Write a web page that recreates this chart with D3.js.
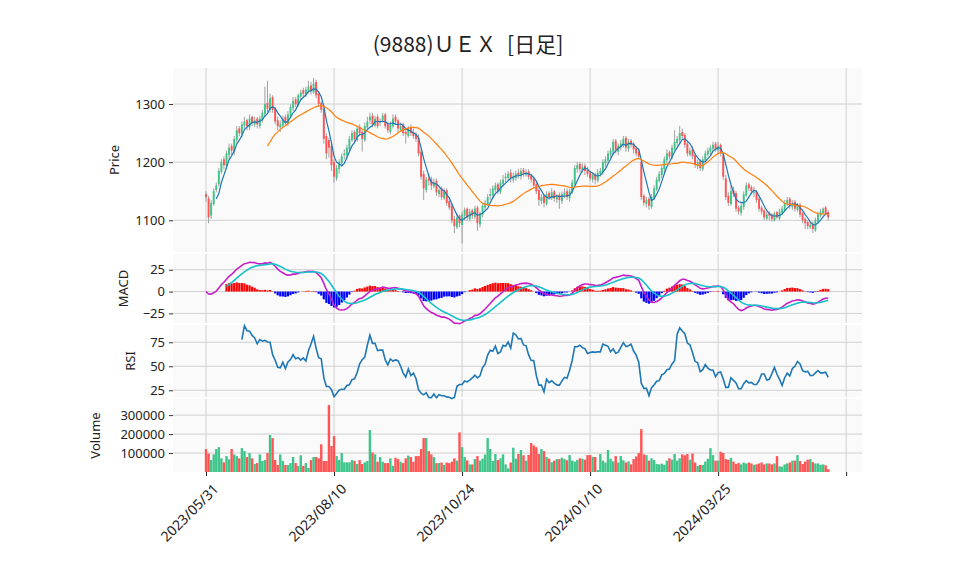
<!DOCTYPE html>
<html>
<head>
<meta charset="utf-8">
<script src="https://cdn.jsdelivr.net/npm/d3@7"></script>
<style>
  body { margin: 0; background: #fff; }
</style>
</head>
<body>
<div id="chart"></div>
<script>
// --- data ---
var title = '(9888)ＵＥＸ\u2002[日足]';
var tickIndex = [0, 50, 100, 150, 200, 250];
var tickLabels = ['2023/05/31', '2023/08/10', '2023/10/24', '2024/01/10', '2024/03/25', ''];

var opens = [1145,1138,1108,1128,1152,1162,1183,1205,1193,1212,
  1228,1218,1238,1258,1248,1263,1272,1260,1278,1265,
  1275,1262,1273,1283,1302,1290,1312,1292,1272,1260,
  1263,1278,1266,1280,1293,1308,1298,1313,1324,1316,
  1322,1332,1320,1338,1318,1302,1292,1245,1238,1228,
  1200,1172,1188,1198,1212,1212,1222,1238,1252,1238,
  1260,1252,1238,1260,1272,1280,1263,1278,1268,1272,
  1282,1265,1252,1262,1278,1272,1255,1265,1252,1245,
  1260,1252,1248,1242,1218,1180,1152,1172,1170,1158,
  1168,1145,1155,1138,1152,1133,1125,1102,1088,1108,
  1092,1108,1120,1102,1117,1106,1122,1093,1110,1122,
  1128,1142,1143,1152,1162,1148,1163,1172,1173,1182,
  1170,1173,1182,1176,1187,1178,1184,1177,1172,1162,
  1152,1133,1142,1128,1147,1138,1150,1136,1144,1133,
  1143,1150,1138,1148,1163,1188,1197,1186,1194,1187,
  1182,1170,1180,1168,1180,1183,1198,1203,1213,1218,
  1237,1218,1226,1230,1242,1223,1237,1232,1224,1217,
  1200,1142,1128,1137,1123,1138,1153,1168,1178,1188,
  1203,1217,1208,1223,1233,1238,1252,1247,1232,1213,
  1222,1212,1193,1202,1188,1203,1213,1218,1223,1232,
  1220,1230,1212,1172,1142,1128,1152,1147,1122,1113,
  1123,1143,1162,1157,1148,1150,1137,1122,1117,1103,
  1112,1110,1100,1114,1103,1113,1118,1128,1137,1123,
  1132,1118,1127,1112,1102,1097,1088,1094,1083,1098,
  1108,1113,1122,1114];
var highs = [1150,1142,1135,1155,1165,1190,1205,1210,1220,1232,
  1232,1245,1262,1262,1270,1278,1275,1282,1280,1278,
  1278,1280,1290,1330,1340,1318,1315,1295,1278,1272,
  1280,1282,1288,1300,1312,1312,1318,1325,1328,1330,
  1340,1338,1345,1342,1322,1305,1295,1250,1242,1232,
  1205,1195,1205,1215,1222,1230,1245,1255,1255,1262,
  1265,1255,1268,1278,1285,1285,1280,1282,1275,1285,
  1285,1270,1270,1282,1282,1275,1268,1268,1258,1262,
  1265,1258,1252,1248,1222,1185,1175,1180,1175,1172,
  1172,1158,1158,1155,1155,1140,1128,1108,1112,1110,
  1115,1122,1122,1120,1120,1125,1125,1115,1130,1135,
  1145,1155,1160,1165,1165,1170,1178,1182,1185,1188,
  1182,1185,1188,1190,1190,1188,1188,1180,1175,1165,
  1155,1145,1145,1150,1150,1155,1152,1145,1148,1150,
  1155,1155,1155,1170,1195,1200,1200,1198,1198,1192,
  1185,1182,1182,1188,1190,1205,1210,1220,1225,1240,
  1240,1232,1238,1245,1245,1240,1240,1235,1228,1222,
  1202,1145,1140,1140,1145,1160,1175,1185,1195,1210,
  1222,1220,1230,1255,1245,1262,1258,1250,1235,1225,
  1228,1215,1205,1205,1210,1220,1225,1230,1235,1235,
  1235,1232,1215,1178,1148,1160,1158,1150,1125,1130,
  1150,1165,1165,1160,1158,1152,1140,1125,1120,1115,
  1115,1112,1115,1116,1120,1125,1135,1140,1140,1135,
  1135,1130,1130,1115,1105,1100,1098,1098,1105,1115,
  1120,1122,1125,1118];
var lows = [1132,1095,1102,1125,1148,1158,1180,1188,1188,1205,
  1212,1212,1232,1245,1242,1258,1255,1255,1262,1260,
  1258,1258,1268,1278,1285,1285,1285,1265,1255,1252,
  1258,1262,1262,1276,1288,1295,1295,1308,1312,1312,
  1318,1316,1318,1310,1295,1285,1232,1205,1208,1185,
  1165,1168,1180,1192,1205,1205,1218,1235,1235,1235,
  1245,1218,1235,1255,1265,1260,1260,1258,1262,1268,
  1258,1250,1248,1258,1265,1250,1252,1245,1232,1242,
  1245,1240,1235,1210,1170,1135,1148,1160,1152,1155,
  1142,1140,1135,1135,1125,1118,1095,1078,1085,1088,
  1060,1100,1100,1098,1102,1102,1082,1088,1105,1118,
  1125,1135,1138,1148,1145,1145,1158,1165,1168,1165,
  1165,1168,1172,1170,1175,1175,1170,1165,1155,1145,
  1125,1128,1122,1125,1135,1135,1132,1130,1120,1128,
  1138,1135,1132,1145,1160,1182,1182,1182,1178,1175,
  1168,1165,1162,1165,1175,1178,1192,1198,1208,1212,
  1215,1212,1220,1225,1218,1218,1225,1215,1210,1205,
  1135,1125,1122,1118,1120,1135,1150,1165,1172,1182,
  1198,1205,1205,1220,1228,1232,1240,1225,1210,1210,
  1205,1190,1188,1185,1185,1200,1210,1212,1218,1218,
  1215,1210,1170,1135,1125,1125,1140,1115,1110,1108,
  1118,1140,1150,1145,1140,1130,1115,1110,1100,1100,
  1100,1098,1098,1102,1100,1110,1115,1125,1120,1118,
  1115,1115,1105,1095,1085,1085,1085,1078,1080,1095,
  1105,1110,1108,1100];
var closes = [1140,1105,1130,1150,1160,1185,1200,1195,1215,1225,
  1220,1240,1255,1250,1265,1270,1262,1275,1268,1272,
  1265,1275,1285,1300,1292,1310,1290,1270,1262,1265,
  1275,1268,1282,1295,1305,1300,1315,1320,1318,1325,
  1330,1322,1335,1315,1300,1290,1240,1215,1225,1195,
  1175,1190,1200,1210,1215,1225,1240,1250,1240,1258,
  1250,1240,1262,1270,1278,1265,1275,1262,1270,1280,
  1262,1255,1265,1275,1270,1258,1262,1250,1248,1258,
  1250,1245,1240,1215,1175,1155,1170,1168,1160,1165,
  1148,1152,1140,1150,1130,1122,1100,1090,1105,1095,
  1110,1118,1105,1115,1108,1120,1095,1112,1125,1130,
  1140,1145,1155,1160,1150,1165,1170,1175,1180,1172,
  1175,1180,1178,1185,1180,1182,1175,1170,1160,1150,
  1135,1140,1130,1145,1140,1148,1138,1142,1135,1145,
  1148,1140,1150,1165,1190,1195,1188,1192,1185,1180,
  1172,1178,1170,1182,1185,1200,1205,1215,1220,1235,
  1220,1228,1232,1240,1225,1235,1230,1222,1215,1210,
  1140,1130,1135,1125,1140,1155,1170,1180,1190,1205,
  1215,1210,1225,1235,1240,1250,1245,1230,1215,1220,
  1210,1195,1200,1190,1205,1215,1220,1225,1230,1222,
  1228,1215,1175,1140,1130,1150,1145,1120,1115,1125,
  1145,1160,1155,1150,1148,1135,1120,1115,1105,1110,
  1108,1102,1112,1105,1115,1120,1130,1135,1125,1130,
  1120,1125,1110,1100,1095,1090,1092,1085,1100,1110,
  1115,1120,1112,1105];
// volume in thousands of shares
var volumesK = [121,98,63,93,121,131,72,51,84,67,
  121,93,84,72,126,110,79,100,72,42,
  47,93,58,63,100,195,179,63,37,93,
  58,37,37,47,79,47,32,88,32,47,
  21,63,79,79,72,146,58,58,353,137,
  189,84,63,100,51,51,51,63,58,42,
  63,42,51,58,221,103,93,54,79,54,
  47,47,72,33,75,68,54,47,72,86,
  79,54,84,84,121,179,179,110,93,79,
  47,47,50,37,50,47,54,72,60,209,
  131,79,61,40,40,68,84,60,70,92,
  179,121,58,95,63,72,93,40,19,50,
  128,70,95,116,88,60,90,153,140,131,
  95,121,110,79,70,52,60,68,68,75,
  68,62,89,60,55,63,72,70,65,89,
  89,80,79,10,95,60,50,116,70,56,
  84,50,84,62,50,56,40,68,82,100,
  226,93,89,60,72,63,42,40,44,38,
  60,72,65,95,60,72,93,88,95,65,
  98,50,32,37,37,55,70,126,89,60,
  60,107,100,68,64,75,55,42,48,40,
  50,45,50,45,38,40,45,50,40,45,
  45,40,45,84,30,28,40,45,50,60,
  60,89,58,42,55,65,68,52,45,45,
  38,40,35,15];

// --- indicators ---
function sma(arr, n) {
    return arr.map(function (v, i) {
        return i < n - 1 ? null : d3.mean(arr.slice(i - n + 1, i + 1));
    });
}
function ema(arr, n) {
    var k = 2 / (n + 1), out = [], prev;
    arr.forEach(function (v, i) { prev = i === 0 ? v : v * k + prev * (1 - k); out.push(prev); });
    return out;
}
var ma5 = sma(closes, 5);
var ma25 = sma(closes, 25);
var e12 = ema(closes, 12), e26 = ema(closes, 26);
var macd = e12.map(function (v, i) { return v - e26[i]; });
var signal = ema(macd, 9);
var hist = macd.map(function (v, i) { return v - signal[i]; });
var rsi = closes.map(function (c, i) {
    if (i < 14) return null;
    var g = 0, l = 0;
    for (var j = i - 13; j <= i; j++) {
        var d = closes[j] - closes[j - 1];
        if (d > 0) g += d; else l -= d;
    }
    return l === 0 ? 100 : 100 - 100 / (1 + g / l);
});

// --- layout ---
var W = 958, H = 575;
var left = 173, right = 862;
var FONT = 'Noto Sans, DejaVu Sans, sans-serif';
var panels = {
    price: { top: 68, bottom: 252 },
    macd: { top: 254, bottom: 323 },
    rsi: { top: 325, bottom: 397 },
    vol: { top: 399, bottom: 472 }
};
var UP = '#3fc48a', DOWN = '#ff5454';

var svg = d3.select('#chart').append('svg').attr('width', W).attr('height', H);

svg.append('text').attr('x', 468).attr('y', 52).attr('text-anchor', 'middle')
    .attr('font-size', 21).attr('fill', '#222')
    .attr('font-family', 'Noto Sans CJK JP, sans-serif').text(title);

var x = d3.scaleLinear().domain([-12.9, 256.2]).range([left, right]);

function panel(p, domain, ticks, label, labelX, fmt) {
    var y = d3.scaleLinear().domain(domain).range([p.bottom, p.top]);
    var g = svg.append('g');
    g.append('rect').attr('x', left).attr('y', p.top).attr('width', right - left)
        .attr('height', p.bottom - p.top).attr('fill', '#fafafa');
    ticks.forEach(function (t) {
        g.append('line').attr('x1', left).attr('x2', right).attr('y1', y(t)).attr('y2', y(t))
            .attr('stroke', '#d0d0d0').attr('stroke-width', 1);
    });
    tickIndex.forEach(function (t) {
        g.append('line').attr('x1', x(t)).attr('x2', x(t)).attr('y1', p.top).attr('y2', p.bottom)
            .attr('stroke', '#d0d0d0').attr('stroke-width', 1);
    });
    var ax = g.append('g').attr('transform', 'translate(' + left + ',0)')
        .call(d3.axisLeft(y).tickValues(ticks).tickSize(4).tickPadding(4).tickFormat(fmt || d3.format('d')));
    ax.select('.domain').remove();
    ax.selectAll('line').attr('stroke', '#333');
    ax.selectAll('text').attr('font-size', 13).attr('fill', '#222').attr('font-family', FONT);
    svg.append('text').attr('transform', 'translate(' + labelX + ',' + ((p.top + p.bottom) / 2) + ') rotate(-90)')
        .attr('text-anchor', 'middle').attr('font-size', 13).attr('fill', '#222')
        .attr('font-family', FONT).text(label);
    return y;
}

var yP = panel(panels.price, [1045.5, 1362], [1100, 1200, 1300], 'Price', 119);
var yM = panel(panels.macd, [-36, 43], [-25, 0, 25], 'MACD', 128, function (d) { return d < 0 ? '\u2212' + (-d) : d; });
var yR = panel(panels.rsi, [18, 93], [25, 50, 75], 'RSI', 135);
var yV = panel(panels.vol, [0, 385], [100, 200, 300], 'Volume', 100, function (d) { return d * 1000; });

var bw = 2.56 * 0.75;
var idx = d3.range(closes.length);
function colorOf(i) { return closes[i] >= opens[i] ? UP : DOWN; }

// candles
var cg = svg.append('g');
cg.selectAll('line').data(idx).join('line')
    .attr('x1', function (i) { return x(i); }).attr('x2', function (i) { return x(i); })
    .attr('y1', function (i) { return yP(highs[i]); }).attr('y2', function (i) { return yP(lows[i]); })
    .attr('stroke', '#8a8a8a').attr('stroke-width', 0.8);
cg.selectAll('rect').data(idx).join('rect')
    .attr('x', function (i) { return x(i) - bw / 2; }).attr('width', bw)
    .attr('y', function (i) { return yP(Math.max(opens[i], closes[i])); })
    .attr('height', function (i) { return Math.max(0.8, Math.abs(yP(opens[i]) - yP(closes[i]))); })
    .attr('fill', colorOf);

function drawLine(data, y, color, w) {
    svg.append('path').datum(idx.filter(function (i) { return data[i] != null; }))
        .attr('fill', 'none').attr('stroke', color).attr('stroke-width', w || 1.3)
        .attr('d', d3.line().x(function (i) { return x(i); }).y(function (i) { return y(data[i]); }));
}
drawLine(ma5, yP, '#1f77b4', 1.2);
drawLine(ma25, yP, '#ff7f0e', 1.2);

// MACD
var histIdx = idx.filter(function (i) { return i >= 8; });
svg.append('g').selectAll('rect').data(histIdx).join('rect')
    .attr('x', function (i) { return x(i) - 1.1; }).attr('width', 2.2)
    .attr('y', function (i) { return Math.min(yM(0), yM(hist[i])); })
    .attr('height', function (i) { return Math.abs(yM(hist[i]) - yM(0)); })
    .attr('fill', function (i) { return hist[i] >= 0 ? '#ff0000' : '#0000ff'; });
drawLine(macd, yM, '#c61fc6', 1.6);
drawLine(signal.map(function (v, i) { return i >= 8 ? v : null; }), yM, '#17c1c9', 1.6);

// RSI
drawLine(rsi, yR, '#1f77b4', 1.6);

// volume
svg.append('g').selectAll('rect').data(idx).join('rect')
    .attr('x', function (i) { return x(i) - 1.2; }).attr('width', 2.4)
    .attr('y', function (i) { return yV(volumesK[i]); })
    .attr('height', function (i) { return yV(0) - yV(volumesK[i]); })
    .attr('fill', colorOf);

// x axis
var xa = svg.append('g').attr('transform', 'translate(0,' + panels.vol.bottom + ')')
    .call(d3.axisBottom(x).tickValues(tickIndex).tickSize(4)
        .tickFormat(function (d, k) { return tickLabels[k]; }));
xa.select('.domain').remove();
xa.selectAll('line').attr('stroke', '#222');
xa.selectAll('text').attr('font-size', 14).attr('fill', '#222')
    .attr('font-family', FONT)
    .attr('text-anchor', 'end').attr('dy', 0)
    .attr('transform', 'translate(8,13) rotate(-45)');
</script>
</body>
</html>
